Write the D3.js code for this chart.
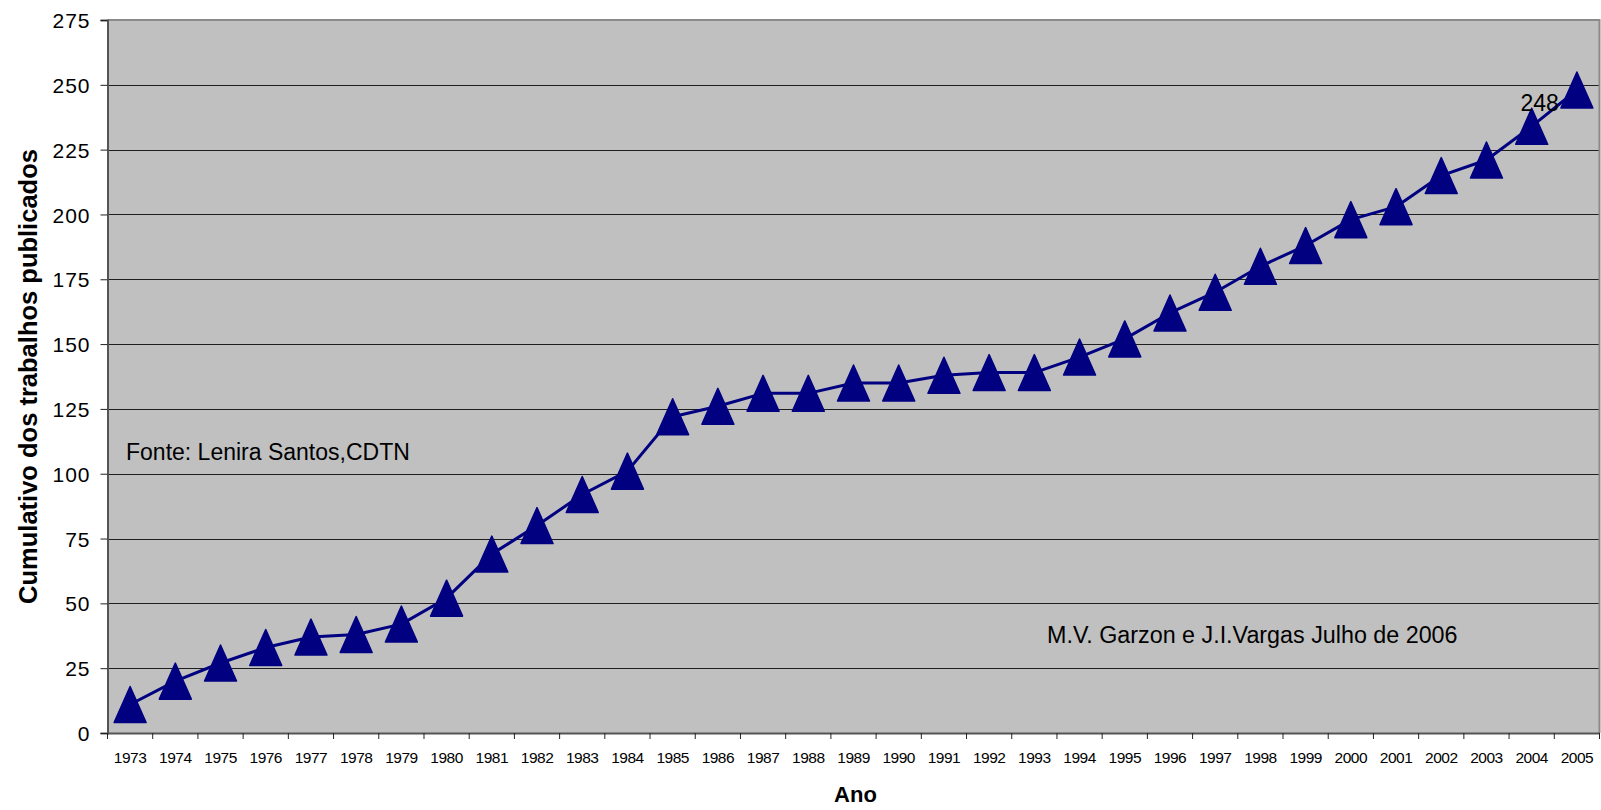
<!DOCTYPE html>
<html>
<head>
<meta charset="utf-8">
<script src="https://cdn.jsdelivr.net/npm/d3@7"></script>
<style>
  html, body { margin: 0; padding: 0; background: #fff; }
  svg { display: block; font-family: "Liberation Sans", Arial, sans-serif; }
</style>
</head>
<body>
<svg id="chart" width="1601" height="810"></svg>
<script>
// ---- data ----
const years = ["1973","1974","1975","1976","1977","1978","1979","1980","1981","1982","1983",
  "1984","1985","1986","1987","1988","1989","1990","1991","1992","1993","1994","1995",
  "1996","1997","1998","1999","2000","2001","2002","2003","2004","2005"];
const cumulative = [11,20,27,33,37,38,42,52,69,80,92,101,122,126,131,131,135,135,138,139,139,
  145,152,162,170,180,188,198,203,215,221,234,248];
const yTicks = [0,25,50,75,100,125,150,175,200,225,250,275];
const yTitle = "Cumulativo dos trabalhos publicados";
const xTitle = "Ano";
const noteSource = "Fonte: Lenira Santos,CDTN";
const noteAuthors = "M.V. Garzon e J.I.Vargas Julho de 2006";
const labelledYear = "2005";

// ---- layout ----
const L = 107.5, R = 1599.5, T = 20, B = 733;
const svg = d3.select("#chart");

const x = d3.scaleBand().domain(years).range([L, R]).padding(0);
const y = d3.scaleLinear().domain([0, 275]).range([B, T]);

// plot background
svg.append("rect").attr("x", L).attr("y", T).attr("width", R - L).attr("height", B - T)
  .attr("fill", "#c0c0c0");

// gridlines
svg.append("g").selectAll("line").data(yTicks.filter(d => d > 0 && d < 275)).join("line")
  .attr("x1", L).attr("x2", R)
  .attr("y1", d => Math.round(y(d)) + 0.5).attr("y2", d => Math.round(y(d)) + 0.5)
  .attr("stroke", "#1e1e1e").attr("stroke-width", 1);

// top and right border
svg.append("path")
  .attr("d", `M${L},${T}H${R}V${B}`)
  .attr("fill", "none").attr("stroke", "#8a8a8a").attr("stroke-width", 2);

// y axis
const yAxis = svg.append("g").attr("transform", `translate(${L},0)`)
  .call(d3.axisLeft(y).tickValues(yTicks).tickSize(7).tickPadding(10));
yAxis.select(".domain").attr("stroke", "#555").attr("stroke-width", 2);
yAxis.selectAll(".tick line").attr("stroke", "#222");
yAxis.selectAll(".tick text")
  .attr("font-family", "Liberation Sans, Arial, sans-serif")
  .attr("font-size", 21).attr("letter-spacing", "1px").attr("fill", "#000")
  .attr("dy", "0.36em");

// x axis (labels centred on bands, ticks at band edges)
const xAxis = svg.append("g").attr("transform", `translate(0,${B})`)
  .call(d3.axisBottom(x).tickSize(0).tickPadding(19));
xAxis.select(".domain").attr("stroke", "#555").attr("stroke-width", 2);
xAxis.selectAll(".tick text")
  .attr("font-family", "Liberation Sans, Arial, sans-serif")
  .attr("font-size", 15.5).attr("letter-spacing", "-0.5px").attr("fill", "#000");
const edges = years.map(d => x(d)).concat([x(years[years.length - 1]) + x.bandwidth()]);
svg.append("g").selectAll("line").data(edges).join("line")
  .attr("x1", d => d).attr("x2", d => d)
  .attr("y1", B).attr("y2", B + 6)
  .attr("stroke", "#222").attr("stroke-width", 1);

// line
const cx = d => x(d) + x.bandwidth() / 2;
const pts = years.map((d, i) => [cx(d), y(cumulative[i])]);
svg.append("path")
  .attr("d", d3.line()(pts))
  .attr("fill", "none").attr("stroke", "#000080").attr("stroke-width", 3)
  .attr("stroke-linejoin", "round");

// triangle markers
const tw = 32, th = 36;
svg.append("g").selectAll("path").data(years).join("path")
  .attr("d", (d, i) => {
    const p = d3.path();
    const px = cx(d), py = y(cumulative[i]);
    p.moveTo(px, py - th / 2);
    p.lineTo(px + tw / 2, py + th / 2);
    p.lineTo(px - tw / 2, py + th / 2);
    p.closePath();
    return p.toString();
  })
  .attr("fill", "#000080").attr("stroke", "#000080").attr("stroke-width", 1.5)
  .attr("stroke-linejoin", "round");

// data label
const li = years.indexOf(labelledYear);
svg.append("text")
  .attr("x", cx(labelledYear) - 18).attr("y", y(cumulative[li]) + 21)
  .attr("text-anchor", "end").attr("font-size", 23).attr("fill", "#000")
  .text(cumulative[li]);

// notes
svg.append("text").attr("x", 126).attr("y", 460)
  .attr("font-size", 23).attr("fill", "#000").text(noteSource);
svg.append("text").attr("x", 1047).attr("y", 643)
  .attr("font-size", 23.3).attr("fill", "#000").text(noteAuthors);

// axis titles
svg.append("text").attr("x", (L + R) / 2 + 2).attr("y", 802)
  .attr("text-anchor", "middle").attr("font-size", 22).attr("font-weight", "bold")
  .attr("fill", "#000").text(xTitle);
svg.append("text")
  .attr("transform", `translate(37,${(T + B) / 2}) rotate(-90)`)
  .attr("text-anchor", "middle").attr("font-size", 25.5).attr("font-weight", "bold")
  .attr("fill", "#000").text(yTitle);
</script>
</body>
</html>
